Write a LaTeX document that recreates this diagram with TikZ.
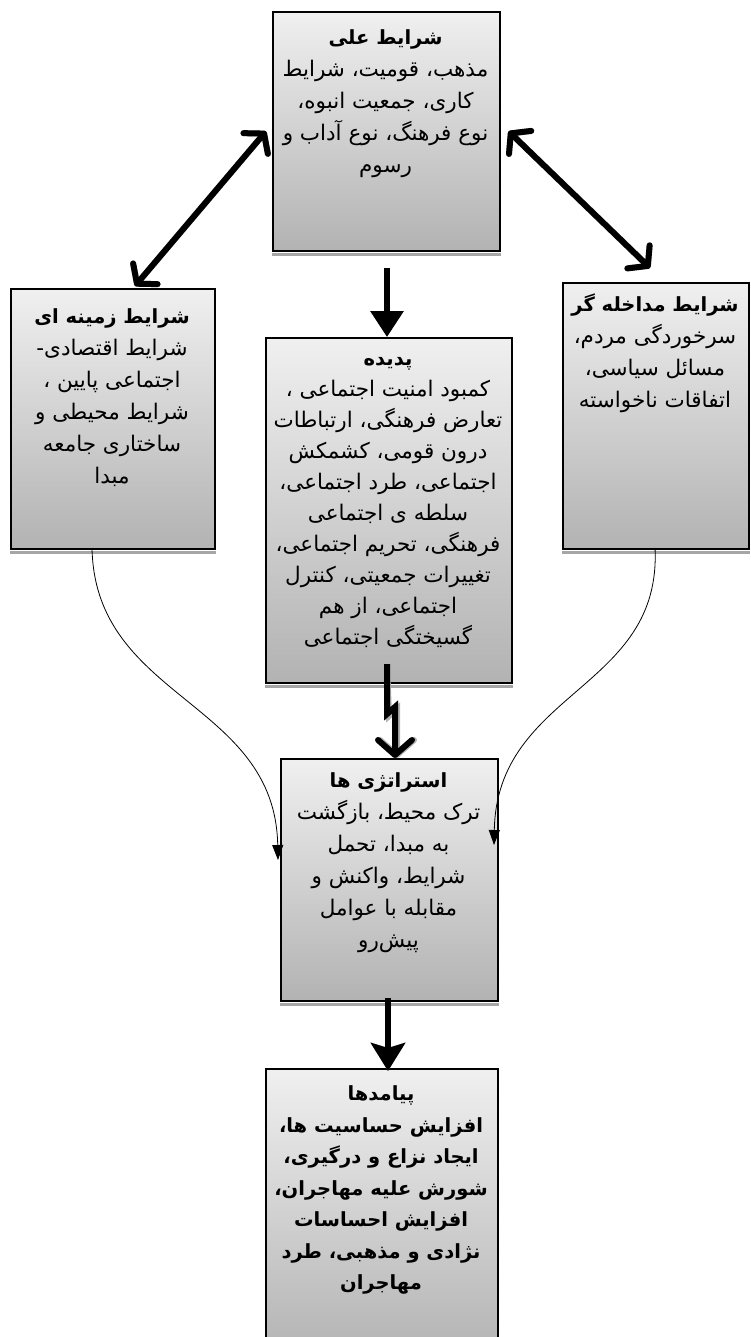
\documentclass[tikz,border=0pt]{standalone}
\usepackage{fontspec}
\newfontfamily\fafont[Script=Arabic]{DejaVu Sans}
\TeXXeTstate=1
\usetikzlibrary{arrows.meta}
\newcommand\rlline[1]{\beginR #1\endR}
\newcommand\firststrut{\rule{0pt}{0.9em}}
\newcommand\ttl[1]{{\bfseries\fontsize{19.5}{32}\selectfont\firststrut\rlline{#1}}}
\tikzset{
  boxst/.style={draw=black, line width=1.6pt, top color=black!6, bottom color=black!30,
    anchor=north west, inner sep=0pt},
  txt/.style={font=\fafont\fontsize{21.5}{32}\selectfont, align=center, anchor=north, inner sep=0pt},
  shstrip/.style={fill=black!35},
  fat/.style={line width=6pt, draw=black, line cap=butt},
  fatsh/.style={line width=6pt, draw=black!30, xshift=2pt, yshift=-2pt},
  thin/.style={line width=0.8pt, draw=black, -{Triangle[length=15pt,width=11pt]}},
  dbl/.style={{Straight Barb[length=13pt,width=32pt,round]}-{Straight Barb[length=13pt,width=32pt,round]}},
  tri/.style={-{Triangle[length=26pt,width=32pt]}},
  stl/.style={-{Stealth[length=28pt,width=34pt,inset=5pt]}},
  barb/.style={-{Straight Barb[length=15pt,width=34pt,round]}}
}
\begin{document}
\begin{tikzpicture}[x=1pt,y=-1pt]
\useasboundingbox (0,0) rectangle (750,1337);
\clip (0,0) rectangle (750,1337);
\fill[white] (0,0) rectangle (750,1337);

% boxes
\node[boxst, minimum width=227pt, minimum height=239pt] (A) at (272,11) {};
\node[boxst, minimum width=204pt, minimum height=260pt] (B) at (10,288) {};
\node[boxst, minimum width=186pt, minimum height=266pt] (C) at (562,282) {};
\node[boxst, minimum width=246pt, minimum height=345pt] (D) at (265,337) {};
\node[boxst, minimum width=217pt, minimum height=242pt] (E) at (280,758) {};
\node[boxst, minimum width=232pt, minimum height=290pt] (F) at (265,1068) {};

\foreach \n in {A,B,C,D,E}{
  \fill[shstrip] ([yshift=-1pt]\n.south west) rectangle ([yshift=-4pt]\n.south east);
}

% texts
\node[txt] (At) at (385.5,27) {\ttl{شرایط علی}\\
\rlline{مذهب، قومیت، شرایط}\\ \rlline{کاری، جمعیت انبوه،}\\ \rlline{نوع فرهنگ، نوع آداب و}\\ \rlline{رسوم}};
\node[txt] (Bt) at (112,306) {\ttl{شرایط زمینه ای}\\
\rlline{شرایط اقتصادی-}\\ \rlline{اجتماعی پایین ،}\\ \rlline{شرایط محیطی و}\\ \rlline{ساختاری جامعه}\\ \rlline{مبدا}};
\node[txt] (Ct) at (655,294) {\ttl{شرایط مداخله گر}\\
\rlline{سرخوردگی مردم،}\\ \rlline{مسائل سیاسی،}\\ \rlline{اتفاقات ناخواسته}};
\node[txt, font=\fafont\fontsize{21.5}{31}\selectfont] (Dt) at (388,348) {\ttl{پدیده}\\
\rlline{کمبود امنیت اجتماعی ،}\\ \rlline{تعارض فرهنگی، ارتباطات}\\ \rlline{درون قومی، کشمکش}\\ \rlline{اجتماعی، طرد اجتماعی،}\\ \rlline{سلطه ی اجتماعی}\\ \rlline{فرهنگی، تحریم اجتماعی،}\\ \rlline{تغییرات جمعیتی، کنترل}\\ \rlline{اجتماعی، از هم}\\ \rlline{گسیختگی اجتماعی}};
\node[txt] (Et) at (388.5,770) {\ttl{استراتژی ها}\\
\rlline{ترک محیط، بازگشت}\\ \rlline{به مبدا، تحمل}\\ \rlline{شرایط، واکنش و}\\ \rlline{مقابله با عوامل}\\ \rlline{پیش‌رو}};
\node[txt, font=\fafont\bfseries\fontsize{19.5}{31.5}\selectfont] (Ft) at (381,1083) {\firststrut\rlline{پیامدها}\\
\rlline{افزایش حساسیت ها،}\\ \rlline{ایجاد نزاع و درگیری،}\\ \rlline{شورش علیه مهاجران،}\\ \rlline{افزایش احساسات}\\ \rlline{نژادی و مذهبی، طرد}\\ \rlline{مهاجران}};

% coordinates for arrow ends
\coordinate (Bin) at (135,286);
\coordinate (Cin) at (650,268);
\coordinate (Dtop) at (387,268);
\coordinate (Dbot) at (387,664);
\coordinate (Ebot) at (388,998);
\coordinate (Bout) at (92,548);
\coordinate (Cout) at (655,548);
\coordinate (Eleft) at (278,860);
\coordinate (Eright) at (494,845);

% shadows of thick arrows
\draw[fatsh, dbl] (Bin) -- ([xshift=-6pt]A.west);
\draw[fatsh, dbl] (Cin) -- ([xshift=8pt]A.east);
\draw[fatsh, tri] (Dtop) -- (D.north -| Dtop);
\draw[fatsh, barb] (Dbot) -- (387,714) -- (395,707) -- (E.north -| 395,0);
\draw[fatsh, stl] (Ebot) -- ([yshift=-3pt]F.north -| Ebot);

% thick arrows
\draw[fat, dbl] (Bin) -- ([xshift=-6pt]A.west);
\draw[fat, dbl] (Cin) -- ([xshift=8pt]A.east);
\draw[fat, tri] (Dtop) -- (D.north -| Dtop);
\draw[fat, barb, line join=miter] (Dbot) -- (387,714) -- (395,707) -- (E.north -| 395,0);
\draw[fat, stl] (Ebot) -- ([yshift=-3pt]F.north -| Ebot);

% thin curved arrows
\draw[thin] (Bout) .. controls (95,700) and (275,700) .. (Eleft);
\draw[thin] (Cout) .. controls (662,690) and (497,690) .. (Eright);
\end{tikzpicture}
\end{document}
